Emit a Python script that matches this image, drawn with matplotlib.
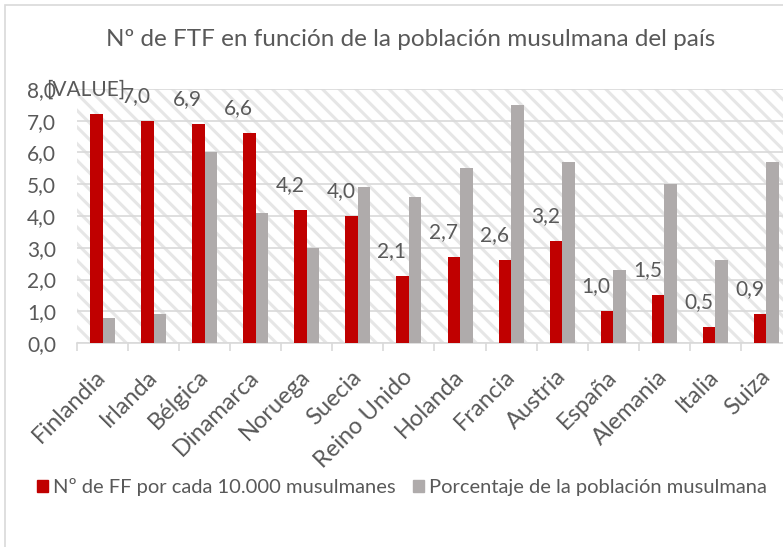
import matplotlib
matplotlib.use('Agg')
import matplotlib.pyplot as plt
from matplotlib.patches import Rectangle, Patch
import numpy as np

paises = ["Finlandia", "Irlanda", "Bélgica", "Dinamarca", "Noruega", "Suecia",
          "Reino Unido", "Holanda", "Francia", "Austria", "España", "Alemania",
          "Italia", "Suiza"]
ff_10000 = [7.2, 7.0, 6.9, 6.6, 4.2, 4.0, 2.1, 2.7, 2.6, 3.2, 1.0, 1.5, 0.5, 0.9]
pct_musulmana = [0.8, 0.9, 6.0, 4.1, 3.0, 4.9, 4.6, 5.5, 7.5, 5.7, 2.3, 5.0, 2.6, 5.7]
etiquetas = ["[VALUE]", "7,0", "6,9", "6,6", "4,2", "4,0", "2,1", "2,7", "2,6",
             "3,2", "1,0", "1,5", "0,5", "0,9"]
serie_1 = "Nº de FF por cada 10.000 musulmanes"
serie_2 = "Porcentaje de la población musulmana"
titulo = "Nº de FTF en función de la población musulmana del país"

ROJO = '#C00000'
GRIS = '#AFABAB'
TXT = '#595959'
LINEA = '#D9D9D9'

plt.rcParams['font.family'] = ['Lato', 'DejaVu Sans']
plt.rcParams['hatch.linewidth'] = 2.2
plt.rcParams['hatch.color'] = '#E6E6E6'

W, H = 783, 547
fig = plt.figure(figsize=(W / 100, H / 100), dpi=100)

# marco del grafico (recortado a la derecha y abajo)
fig.add_artist(Rectangle((5 / W, -0.1), 1.2, 1 - 5 / H + 0.1, transform=fig.transFigure,
                         facecolor='none', edgecolor=LINEA, lw=1.2))

left, right, bottom, top = 77, 792, 343, 89
ax = fig.add_axes([left / W, 1 - bottom / H, (right - left) / W, (bottom - top) / H])
ax.set_facecolor('white')
ax.patch.set_hatch('\\\\')
ax.patch.set_edgecolor('#E6E6E6')
ax.patch.set_linewidth(0)

x = np.arange(len(paises))
w = 0.245
ax.bar(x - w / 2, ff_10000, w, color=ROJO, zorder=3)
ax.bar(x + w / 2, pct_musulmana, w, color=GRIS, zorder=3)

for xi, v, lab in zip(x, ff_10000, etiquetas):
    ax.annotate(lab, (xi, v), xytext=(-17, 15), textcoords='offset pixels',
                ha='center', va='bottom', fontsize=15, color=TXT, zorder=4)

ax.set_xlim(-0.5, len(paises) - 0.5)
ax.set_ylim(0, 8)
ax.set_yticks(np.arange(0, 8.1, 1))
ax.set_yticklabels([f"{v:.1f}".replace('.', ',') for v in np.arange(0, 8.1, 1)])
ax.yaxis.grid(True, color=LINEA, lw=1.2, zorder=1)
ax.set_axisbelow(True)

ax.set_xticks(x)
ax.set_xticklabels(paises, rotation=45, ha='right', va='center',
                   rotation_mode='anchor')
ax.set_xticks(np.arange(-0.5, len(paises), 1), minor=True)
ax.tick_params(axis='x', which='major', length=0, pad=22, labelsize=17, labelcolor=TXT)
ax.tick_params(axis='x', which='minor', length=6, color=LINEA, width=1.2)
ax.tick_params(axis='y', length=0, pad=15, labelsize=15, labelcolor=TXT)

for s in ['left', 'right', 'top']:
    ax.spines[s].set_visible(False)
ax.spines['bottom'].set_color(LINEA)
ax.spines['bottom'].set_linewidth(1.2)

fig.text(411 / W, 1 - 40 / H, titulo, ha='center', va='center', fontsize=17.5, color=TXT)

handles = [Patch(color=ROJO), Patch(color=GRIS)]
fig.legend(handles, [serie_1, serie_2], loc='center left',
           bbox_to_anchor=(27 / W, 1 - 487 / H), ncol=2, frameon=False,
           borderpad=0, handlelength=0.55, handleheight=0.55, handletextpad=0.25,
           columnspacing=0.85, fontsize=14.5, labelcolor=TXT)

fig.savefig('out.png', dpi=100)
